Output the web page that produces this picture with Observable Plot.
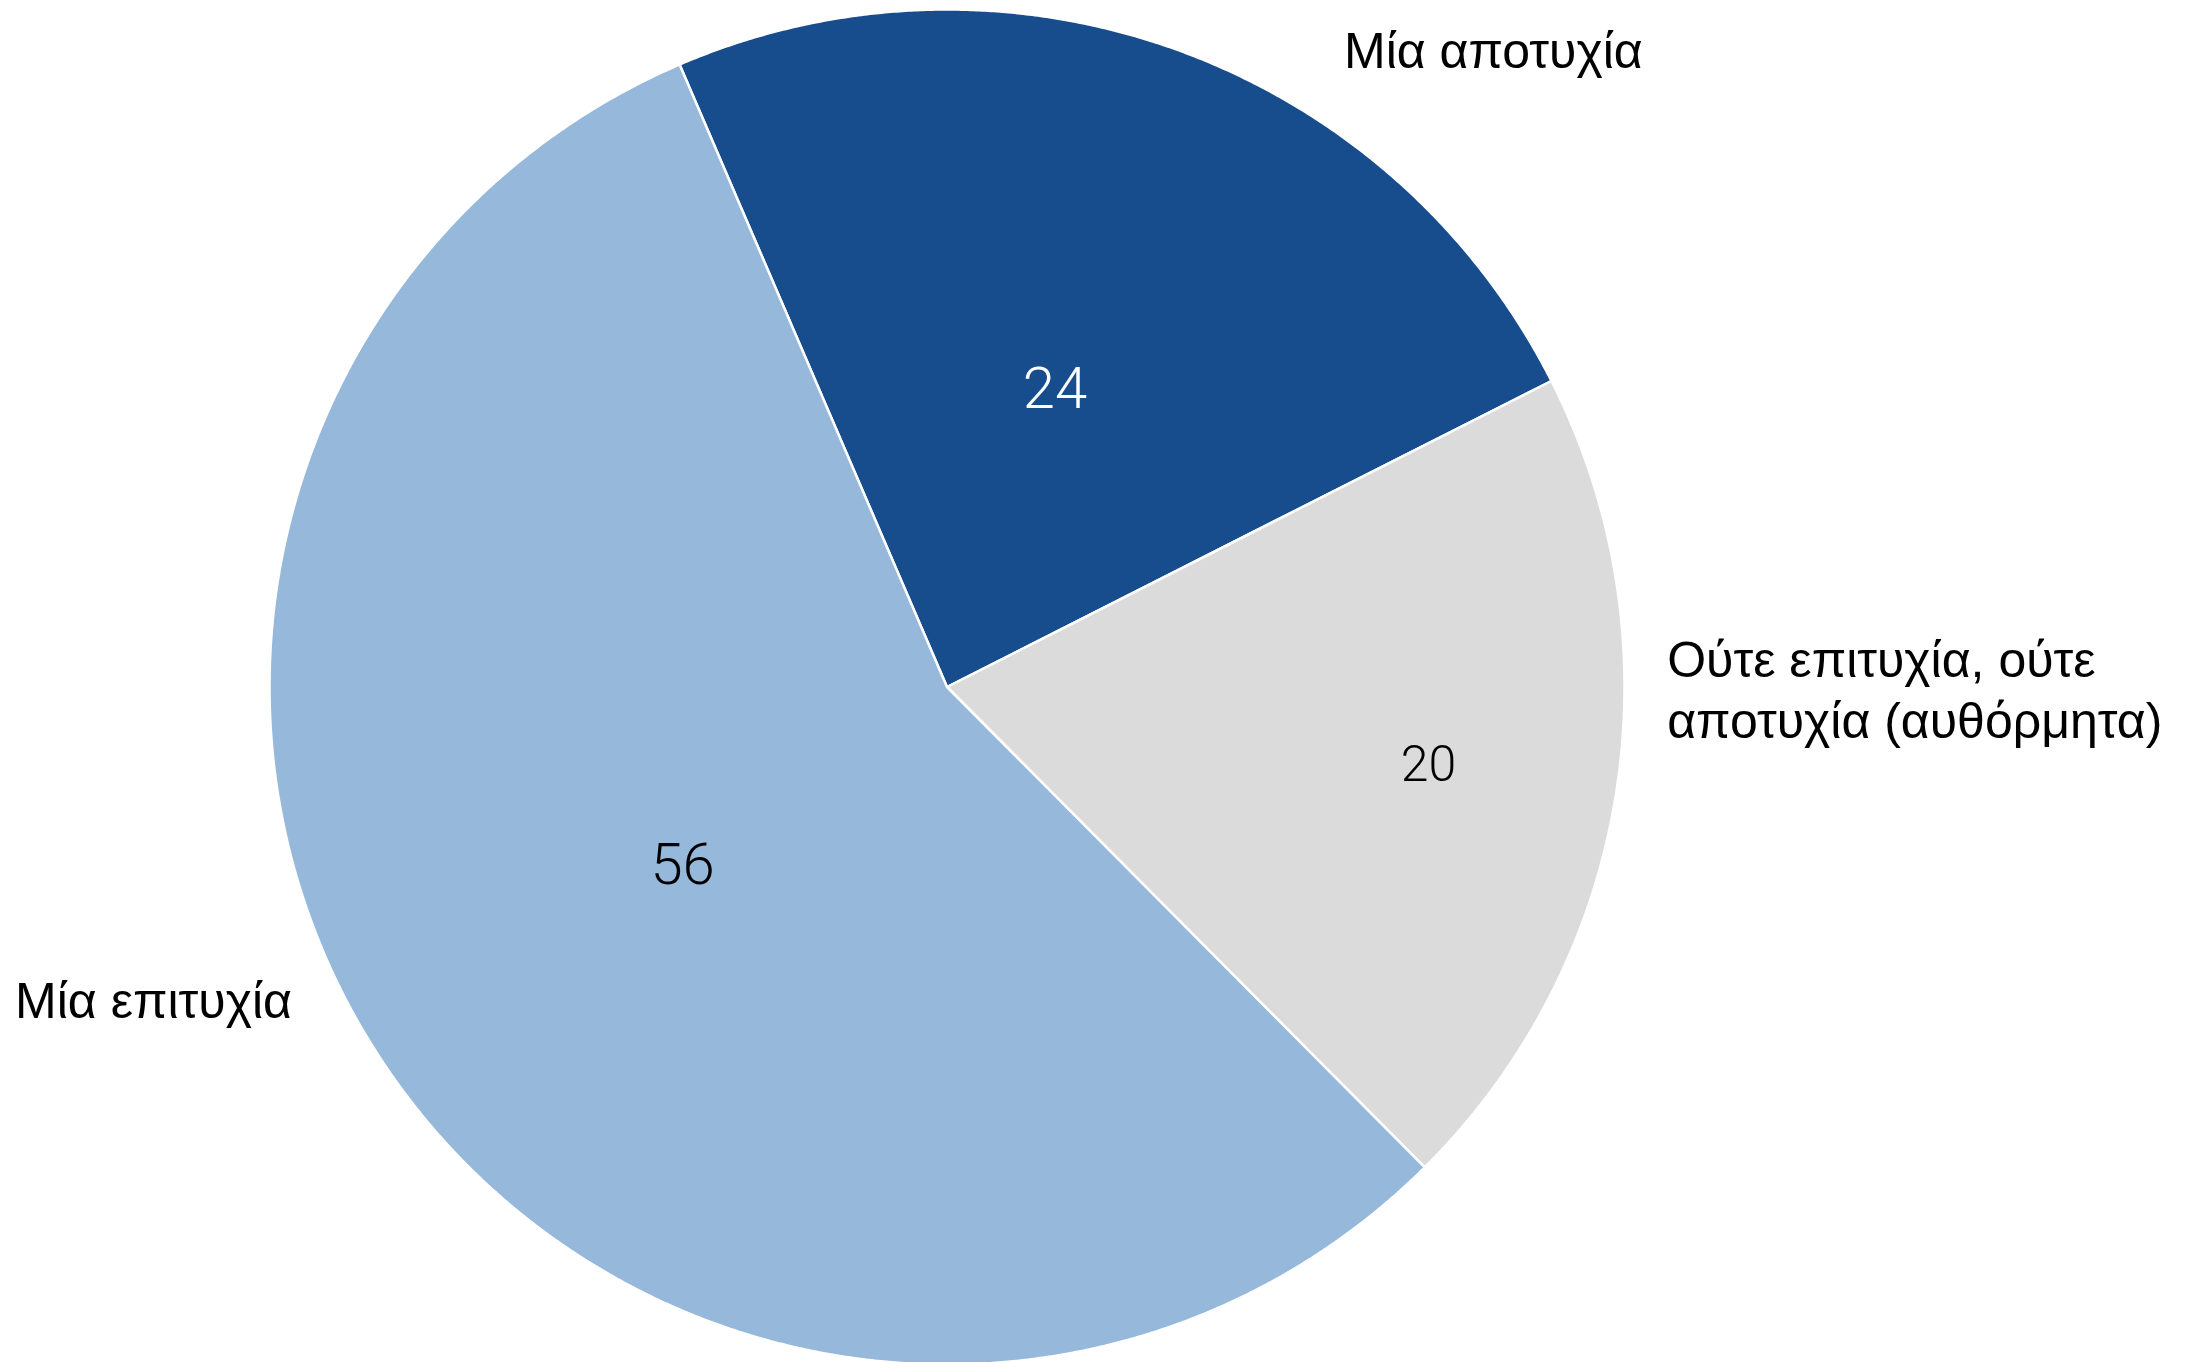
<!DOCTYPE html>
<html><head><meta charset="utf-8">
<script src="https://cdn.jsdelivr.net/npm/d3@7"></script>
<script src="https://cdn.jsdelivr.net/npm/@observablehq/plot@0.6"></script>
<style>html,body{margin:0;padding:0;background:#fff;} #chart svg{display:block}</style>
</head><body><div id="chart"></div>
<script>
// ---- data ----
const categories = ["Μία αποτυχία", "Ούτε επιτυχία, ούτε αποτυχία (αυθόρμητα)", "Μία επιτυχία"];
const labels = ["Μία αποτυχία", "Ούτε επιτυχία, ούτε\nαποτυχία (αυθόρμητα)", "Μία επιτυχία"];
const values = [24, 20, 56];
const sliceColors = ["#174C8D", "#DBDBDB", "#96B8DA"];
const valueTextColors = ["white", "black", "black"];

// ---- layout ----
const W = 2189, H = 1362, CX = 946.5, CY = 686.5, R = 677.5;
const START_DEG = -23.25;
const valueLabelRadius = [0.467, 0.72, 0.471];
const valueFontSize = [58, 50, 58];
const outerLabelAnchor = [[0.586, 0.942], [1.063, -0.001], [-1.3755, -0.459]];

const total = d3.sum(values);
let acc = START_DEG;
const slices = categories.map((c, i) => {
  const a0 = acc, a1 = acc + values[i] / total * 360;
  acc = a1;
  return {c, i, a0, a1, mid: (a0 + a1) / 2};
});
const rad = d => d * Math.PI / 180;
const pts = [];
for (const s of slices) {
  pts.push({c: s.c, x: 0, y: 0});
  const n = Math.ceil((s.a1 - s.a0) / 0.25);
  for (let k = 0; k <= n; k++) {
    const a = rad(s.a0 + (s.a1 - s.a0) * k / n);
    pts.push({c: s.c, x: Math.sin(a), y: Math.cos(a)});
  }
  pts.push({c: s.c, x: 0, y: 0});
}
const valueData = slices.map(s => ({
  text: String(values[s.i]),
  x: valueLabelRadius[s.i] * Math.sin(rad(s.mid)),
  y: valueLabelRadius[s.i] * Math.cos(rad(s.mid)),
  fs: valueFontSize[s.i],
  color: valueTextColors[s.i]
}));
const outerData = slices.map(s => ({
  text: labels[s.i],
  x: outerLabelAnchor[s.i][0],
  y: outerLabelAnchor[s.i][1]
}));

const labelFont = "'Liberation Sans', Arial, Helvetica, sans-serif";
const numFont = "Roboto, 'Liberation Sans', Arial, sans-serif";

const chart = Plot.plot({
  width: W, height: H, margin: 0,
  x: {domain: [-1, 1], range: [CX - R, CX + R], axis: null},
  y: {domain: [-1, 1], range: [CY + R, CY - R], axis: null},
  color: {domain: categories, range: sliceColors},
  marks: [
    Plot.line(pts, {x: "x", y: "y", z: "c", fill: "c", stroke: "white", strokeWidth: 2.5, curve: "linear"}),
    Plot.text(valueData.filter(d => d.color === "white"), {x: "x", y: "y", text: "text", fill: "white", fontSize: d => d.fs, fontFamily: numFont, fontWeight: 300}),
    Plot.text(valueData.filter(d => d.color !== "white"), {x: "x", y: "y", text: "text", fill: "black", fontSize: d => d.fs, fontFamily: numFont, fontWeight: 300}),
    Plot.text(outerData, {x: "x", y: "y", text: "text", fill: "black", textAnchor: "start", fontSize: 50, lineHeight: 1.22, fontFamily: labelFont})
  ]
});
document.getElementById("chart").appendChild(chart);
</script>
</body></html>
